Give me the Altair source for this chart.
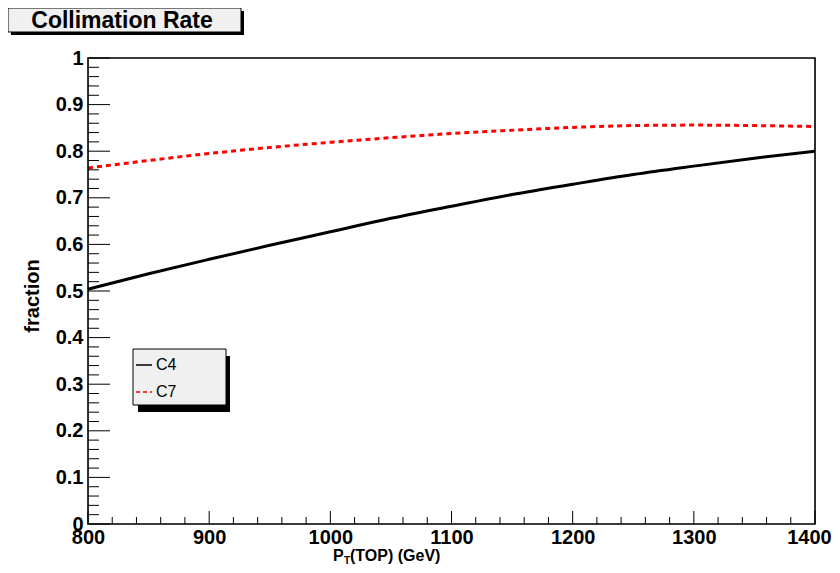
import altair as alt
import pandas as pd

# ---- data ----
pt = [800, 850, 900, 950, 1000, 1050, 1100, 1150, 1200, 1250, 1300, 1350, 1400]
c4 = [0.504, 0.537, 0.568, 0.598, 0.627, 0.656, 0.682, 0.707, 0.729, 0.750, 0.768, 0.785, 0.800]
c7 = [0.764, 0.780, 0.795, 0.808, 0.819, 0.829, 0.838, 0.845, 0.851, 0.855, 0.856, 0.855, 0.853]
series_names = ["C4", "C7"]
chart_title = "Collimation Rate"
x_title_main, x_title_sub, x_title_rest = "P", "T", "(TOP) (GeV)"
y_title = "fraction"
x_major = [800, 900, 1000, 1100, 1200, 1300, 1400]
x_minor = [v for v in range(800, 1401, 20) if v % 100 != 0]
y_major = [0, 0.1, 0.2, 0.3, 0.4, 0.5, 0.6, 0.7, 0.8, 0.9, 1.0]
y_minor = [round(i * 0.02, 2) for i in range(51) if i % 5 != 0]

W, H = 727, 466
FONT = "Liberation Sans"

df = pd.DataFrame({"pt": pt, "C4": c4, "C7": c7})

xscale = alt.Scale(domain=[800, 1400], nice=False, zero=False)
yscale = alt.Scale(domain=[0, 1], nice=False)

xaxis = alt.Axis(values=x_major, ticks=False, domain=False, grid=False, title=None, format="d",
                 labelFont=FONT, labelFontWeight="bold", labelFontSize=20,
                 labelColor="black", labelPadding=3, labelOverlap=False, labelFlush=False,
                 labelOffset={"condition": {"test": "datum.value == 1400", "value": -6}, "value": 0})
yaxis = alt.Axis(values=y_major, ticks=False, domain=False, grid=False, title=None,
                 labelFont=FONT, labelFontWeight="bold", labelFontSize=20,
                 labelColor="black", labelPadding=5, labelOverlap=False, labelFlush=False,
                 labelExpr="datum.value == 0 ? '0' : datum.value == 1 ? '1' : format(datum.value, '.1f')")

X = lambda f: alt.X(f, scale=xscale, axis=xaxis)
Y = lambda f: alt.Y(f, scale=yscale, axis=yaxis)

base = alt.Chart(df)
line_c4 = base.mark_line(color="black", strokeWidth=3, interpolate="monotone").encode(
    x=X("pt:Q"), y=Y("C4:Q"))
line_c7 = base.mark_line(color="#ff0000", strokeWidth=3, strokeDash=[5, 4],
                         interpolate="monotone").encode(x=X("pt:Q"), y=Y("C7:Q"))

def xticks(vals, length):
    return alt.Chart(pd.DataFrame({"v": vals})).mark_rule(color="black", strokeWidth=1).encode(
        x=X("v:Q"), y=alt.value(H), y2=alt.value(H - length))

def yticks(vals, length):
    return alt.Chart(pd.DataFrame({"v": vals})).mark_rule(color="black", strokeWidth=1).encode(
        y=Y("v:Q"), x=alt.value(0), x2=alt.value(length))

one = alt.Chart(pd.DataFrame({"a": [0]}))

def box(x1, x2, y1, y2, fill, stroke=None, sw=1):
    kw = dict(fill=fill)
    if stroke:
        kw.update(stroke=stroke, strokeWidth=sw)
    return one.mark_rect(**kw).encode(x=alt.value(x1), x2=alt.value(x2),
                                      y=alt.value(y1), y2=alt.value(y2))

frame = one.mark_rect(filled=False, stroke="black", strokeWidth=1.6).encode(
    x=alt.value(0), x2=alt.value(W), y=alt.value(0), y2=alt.value(H))

# title box
title_shadow = box(-77, 156, -47, -23, "black")
title_box = box(-80, 153, -50, -26, "#f0f0f0", "black")
title_text = one.mark_text(font=FONT, fontWeight="bold", fontSize=23, color="black",
                           align="center", baseline="middle").encode(
    x=alt.value(34), y=alt.value(-37), text=alt.value(chart_title))

# legend
leg_shadow = box(50, 142, 298, 354, "black")
leg_box = box(45, 138, 291, 347, "#f0f0f0", "black")
leg_l1 = one.mark_rule(color="black", strokeWidth=1.5).encode(
    x=alt.value(48), x2=alt.value(64), y=alt.value(307))
leg_l2 = one.mark_rule(color="#ff0000", strokeWidth=1.5, strokeDash=[4, 3]).encode(
    x=alt.value(48), x2=alt.value(64), y=alt.value(334))
leg_t1 = one.mark_text(font=FONT, fontSize=16, color="black", align="left", baseline="middle").encode(
    x=alt.value(68), y=alt.value(307), text=alt.value(series_names[0]))
leg_t2 = one.mark_text(font=FONT, fontSize=16, color="black", align="left", baseline="middle").encode(
    x=alt.value(68), y=alt.value(334), text=alt.value(series_names[1]))

# axis titles
ytitle = one.mark_text(font=FONT, fontWeight="bold", fontSize=20, color="black",
                       align="center", baseline="middle", angle=270).encode(
    x=alt.value(-55), y=alt.value(238), text=alt.value(y_title))
xt_p = one.mark_text(font=FONT, fontWeight="bold", fontSize=16, color="black",
                     align="left", baseline="alphabetic").encode(
    x=alt.value(245), y=alt.value(503), text=alt.value(x_title_main))
xt_sub = one.mark_text(font=FONT, fontWeight="bold", fontSize=10, color="black",
                       align="left", baseline="alphabetic").encode(
    x=alt.value(256), y=alt.value(506), text=alt.value(x_title_sub))
xt_rest = one.mark_text(font=FONT, fontWeight="bold", fontSize=16, color="black",
                        align="left", baseline="alphabetic").encode(
    x=alt.value(262), y=alt.value(503), text=alt.value(x_title_rest))

chart = alt.layer(
    line_c4, line_c7,
    xticks(x_major, 13), xticks(x_minor, 7), yticks(y_major, 22), yticks(y_minor, 11),
    frame,
    title_shadow, title_box, title_text,
    leg_shadow, leg_box, leg_l1, leg_l2, leg_t1, leg_t2,
    ytitle, xt_p, xt_sub, xt_rest,
).properties(
    width=W, height=H,
    padding={"left": 80, "top": 50, "right": 17, "bottom": 41},
    autosize=alt.AutoSizeParams(type="none"),
).configure_view(stroke=None).configure(background="white")

chart.save("out.html", embed_options={"renderer": "svg", "actions": False})
